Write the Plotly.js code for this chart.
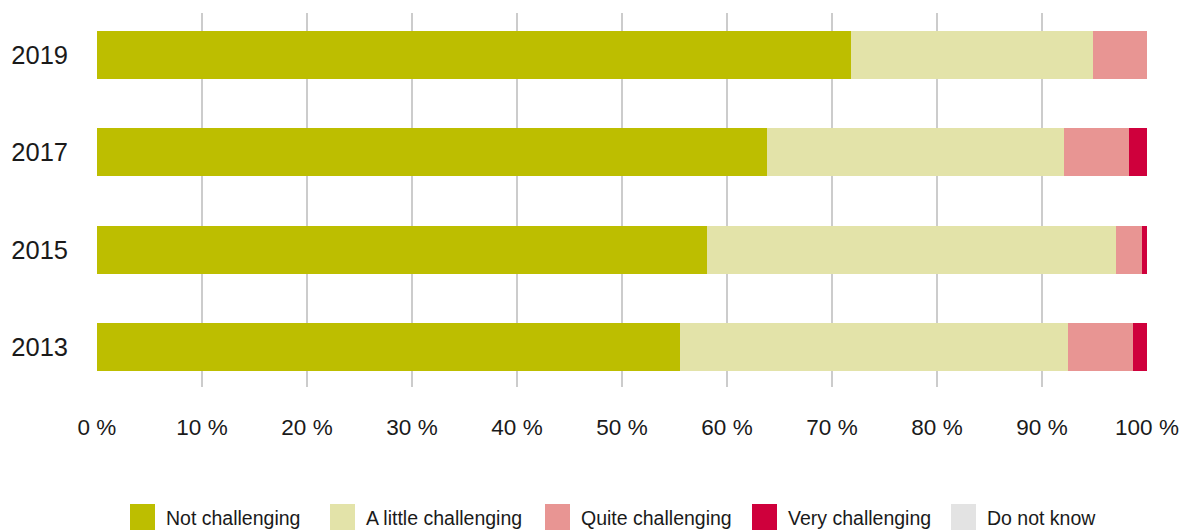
<!DOCTYPE html>
<html>
<head>
<meta charset="utf-8">
<script src="https://cdn.plot.ly/plotly-3.0.1.min.js"></script>
<style>html,body{margin:0;padding:0;background:#fff;}#chart{width:1188px;height:530px;}</style>
</head>
<body>
<div id="chart"></div>
<script>
var years = ["2013", "2015", "2017", "2019"];
var seriesNames = ["Not challenging", "A little challenging", "Quite challenging", "Very challenging", "Do not know"];
var notChallenging = [55.5, 58.1, 63.8, 71.8];
var littleChallenging = [37.0, 38.9, 28.3, 23.1];
var quiteChallenging = [6.2, 2.5, 6.2, 5.1];
var veryChallenging = [1.3, 0.5, 1.7, 0.0];
var doNotKnow = [0, 0, 0, 0];
var colors = ["#BDBE00", "#E3E3A9", "#E89593", "#CF003C", "#E3E3E3"];
var xTickVals = [0,10,20,30,40,50,60,70,80,90,100];
var xTickText = ["0 %","10 %","20 %","30 %","40 %","50 %","60 %","70 %","80 %","90 %","100 %"];

var seriesValues = [notChallenging, littleChallenging, quiteChallenging, veryChallenging, doNotKnow];
var traces = seriesValues.map(function(vals, i){
  return {type:"bar", orientation:"h", y:years, x:vals, name:seriesNames[i],
    marker:{color:colors[i], line:{width:0}}, showlegend:false, hoverinfo:"x+name"};
});

// custom legend (big square swatches)
var W = 1188, H = 530, ml = 97, mr = 41, mt = 13, mb = 143;
var pw = W - ml - mr, ph = H - mt - mb;
function px2x(p){ return (p - ml) / pw; }
function py2y(p){ return (H - mb - p) / ph; }
var swX = [130, 330, 545, 752, 951];
var shapes = [], annotations = [];
seriesNames.forEach(function(n, i){
  shapes.push({type:"rect", xref:"paper", yref:"paper", x0:px2x(swX[i]), x1:px2x(swX[i]+25),
    y0:py2y(531), y1:py2y(504), fillcolor:colors[i], line:{width:0}, layer:"above"});
  annotations.push({xref:"paper", yref:"paper", x:px2x(swX[i]+34), y:py2y(518), xanchor:"left", yanchor:"middle",
    text:n, showarrow:false, font:{size:19.5, color:"#1a1a1a", family:"Liberation Sans, Arial, sans-serif"}});
});

var layout = {
  width: W, height: H,
  margin:{l:ml, r:mr, t:mt, b:mb, pad:0},
  paper_bgcolor:"#fff", plot_bgcolor:"#fff",
  barmode:"stack", bargap:0.505,
  showlegend:false,
  font:{family:"Liberation Sans, Arial, sans-serif", color:"#1a1a1a"},
  xaxis:{range:[0,100], tickvals:xTickVals, ticktext:xTickText, showgrid:true, gridcolor:"#cccccc", gridwidth:1.5,
    zeroline:false, showline:false, ticks:"", tickfont:{size:22.5, color:"#1a1a1a"}, ticklabelstandoff:24, fixedrange:true},
  yaxis:{type:"category", categoryorder:"array", categoryarray:years, range:[-0.41, 3.43], showgrid:false, zeroline:false,
    showline:false, ticks:"", tickfont:{size:25.5, color:"#1a1a1a"}, ticklabelstandoff:28, fixedrange:true},
  shapes:shapes, annotations:annotations
};
Plotly.newPlot("chart", traces, layout, {displayModeBar:false, staticPlot:true});
</script>
</body>
</html>
